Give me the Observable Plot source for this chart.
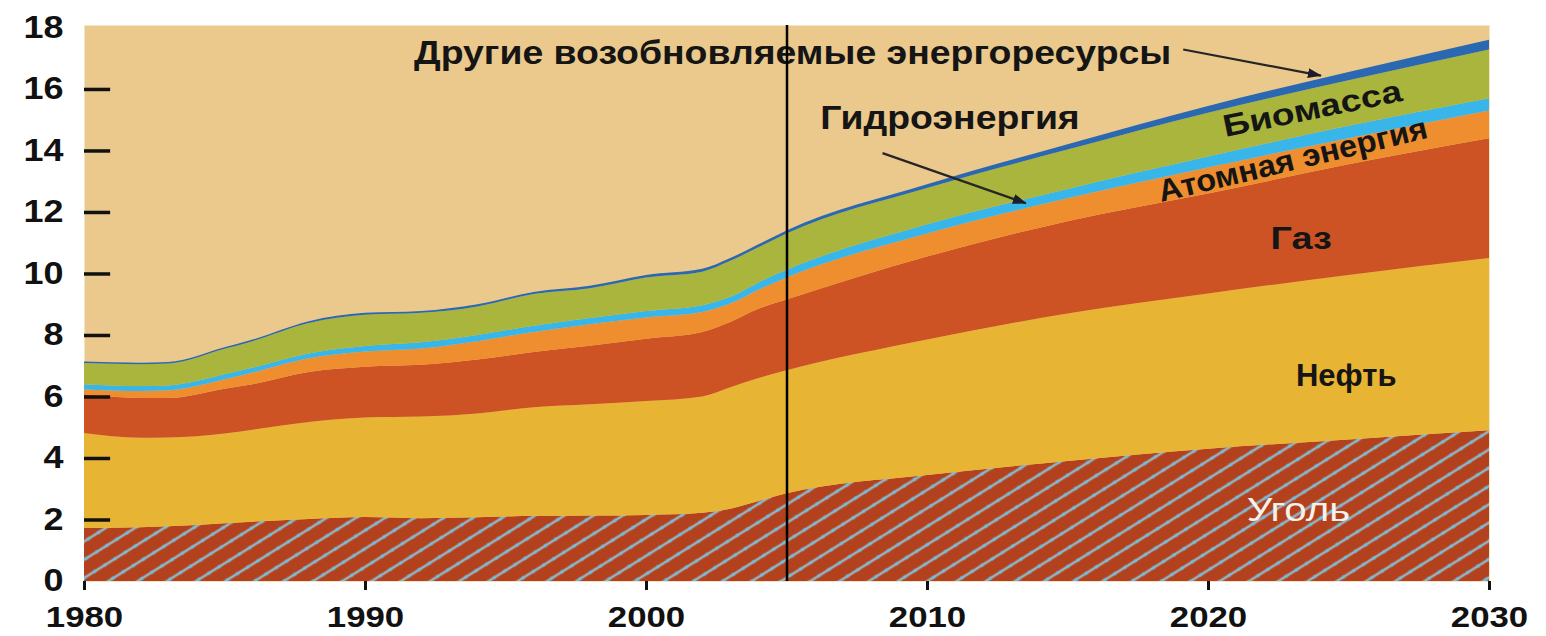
<!DOCTYPE html>
<html><head><meta charset="utf-8">
<script src="https://cdn.jsdelivr.net/npm/d3@7"></script>
<script src="https://cdn.jsdelivr.net/npm/@observablehq/plot@0.6"></script>
<style>body{margin:0;background:#fff;}#chart{width:1546px;height:636px;}</style>
</head><body><div id="chart"></div>
<script>
const years   = [1980,1982,1983,1985,1986,1988,1990,1992,1994,1996,1998,2000,2002,2003,2004,2005,2010,2015,2020,2025,2030];
const coal    = [1.72,1.75,1.78,1.88,1.93,2.02,2.08,2.04,2.07,2.12,2.13,2.15,2.22,2.35,2.60,2.85,3.45,3.90,4.30,4.60,4.90];
const oil     = [3.09,2.91,2.89,2.92,2.99,3.15,3.24,3.31,3.38,3.53,3.62,3.70,3.78,3.95,4.00,4.00,4.40,4.80,5.05,5.35,5.60];
const gas     = [1.26,1.29,1.28,1.45,1.48,1.63,1.65,1.68,1.75,1.80,1.90,2.03,2.10,2.12,2.25,2.30,2.70,3.00,3.25,3.60,3.90];
const nuclear = [0.16,0.23,0.25,0.31,0.38,0.44,0.49,0.53,0.60,0.65,0.70,0.69,0.65,0.60,0.62,0.72,0.75,0.75,0.85,0.85,0.90];
const hydro   = [0.17,0.16,0.16,0.16,0.16,0.16,0.18,0.20,0.20,0.20,0.20,0.21,0.22,0.22,0.24,0.25,0.30,0.30,0.35,0.40,0.40];
const biomass = [0.69,0.71,0.71,0.83,0.86,0.99,1.02,0.96,0.93,1.03,0.97,1.09,1.09,1.17,1.14,1.18,1.18,1.28,1.43,1.48,1.58];
const other   = [0.05,0.05,0.05,0.05,0.05,0.06,0.06,0.06,0.07,0.07,0.08,0.08,0.09,0.09,0.10,0.10,0.12,0.17,0.22,0.27,0.32];

const sources = ["Уголь","Нефть","Газ","Атомная энергия","Гидроэнергия","Биомасса","Другие возобновляемые энергоресурсы"];
const colors  = ["url(#coalHatch)","#e8b434","#cd5224","#ef8e2e","#38b6ea","#a9b53c","#2b68b2"];
const series  = [coal, oil, gas, nuclear, hydro, biomass, other];

const xTicks = [1980,1990,2000,2010,2020,2030];
const yTicks = [0,2,4,6,8,10,12,14,16,18];
const innerTicks = [2,4,6,8,10,12,14,16];
const projectionStart = 2005;

// annotation texts with their anchor in data units (year, value)
const labels = [
  {text:"Другие возобновляемые энергоресурсы", x:2005.2, y:17.17},
  {text:"Гидроэнергия", x:2010.8, y:15.06},
  {text:"Биомасса", x:2023.7, y:15.36},
  {text:"Атомная энергия", x:2023.0, y:13.7},
  {text:"Газ", x:2023.3, y:11.14},
  {text:"Нефть", x:2024.9, y:6.69},
  {text:"Уголь", x:2023.2, y:2.3}
];
const arrows = [
  {x1:2019.1, y1:17.3, x2:2024.0, y2:16.45},
  {x1:2008.4, y1:13.93, x2:2013.5, y2:12.3}
];

// styling of annotations (kept apart from data)
const labelStyle = {
  "Другие возобновляемые энергоресурсы": {size:34, weight:"bold", fill:"#151515", rotate:0, stretch:1.1},
  "Гидроэнергия": {size:34, weight:"bold", fill:"#151515", rotate:0, stretch:1.1},
  "Биомасса": {size:31, weight:"bold", fill:"#151515", rotate:-11.5, stretch:1.2},
  "Атомная энергия": {size:31, weight:"bold", fill:"#151515", rotate:-13.5, stretch:1.05},
  "Газ": {size:31, weight:"bold", fill:"#151515", rotate:0, stretch:1.22},
  "Нефть": {size:31, weight:"bold", fill:"#151515", rotate:0, stretch:1.0},
  "Уголь": {size:33, weight:"normal", fill:"#f6f1ea", rotate:0, stretch:1.22}
};
const axisStretch = 1.16;

const rows = years.flatMap((yr, i) => sources.map((s, k) => ({year: yr, source: s, value: series[k][i]})));

const font = "'Liberation Sans', Arial, Helvetica, sans-serif";

const chart = Plot.plot({
  width: 1546, height: 636,
  marginLeft: 84, marginRight: 57, marginTop: 25, marginBottom: 55,
  style: {fontFamily: font, background: "transparent", color: "#111"},
  x: {domain: [1980, 2030], label: null},
  y: {domain: [0, 18.08], label: null},
  color: {domain: sources, range: colors},
  marks: [
    Plot.frame({fill: "#ebc88b", stroke: "none"}),
    Plot.areaY(rows, Plot.stackY({x: "year", y: "value", z: "source", fill: "source", curve: "monotone-x"})),
    Plot.ruleY(innerTicks, {x1: 1980, x2: 1980.93, stroke: "#111", strokeWidth: 3.5}),
    ...labels.map(l => {
      const s = labelStyle[l.text];
      return Plot.text([l], {x: "x", y: "y", text: "text", rotate: s.rotate, fill: s.fill,
        fontWeight: s.weight, fontSize: s.size, textAnchor: "middle", lineAnchor: "middle", fontFamily: font});
    }),
    Plot.link(arrows, {x1: "x1", y1: "y1", x2: "x2", y2: "y2", stroke: "#262626", strokeWidth: 2.2}),
    Plot.ruleX([projectionStart], {stroke: "#000", strokeWidth: 2.5}),
    Plot.axisX({ticks: xTicks, tickSize: 9, tickPadding: 15, fontSize: 30, fontWeight: "bold", tickFormat: d => String(d), strokeWidth: 3, label: null}),
    Plot.axisY({ticks: yTicks, tickSize: 0, tickPadding: 21, fontSize: 31, fontWeight: "bold", label: null})
  ]
});

// defs: hatch pattern for coal + filled arrow head
const ns = "http://www.w3.org/2000/svg";
function el(name, attrs) { const e = document.createElementNS(ns, name); for (const k in attrs) e.setAttribute(k, attrs[k]); return e; }
const defs = el("defs", {});
const pat = el("pattern", {id: "coalHatch", patternUnits: "userSpaceOnUse", width: 12, height: 15.5, patternTransform: "rotate(-32)"});
pat.append(
  el("rect", {width: 12, height: 15.5, fill: "#b3411d"}),
  el("line", {x1: 0, x2: 12, y1: 7.75, y2: 7.75, stroke: "#96b3be", "stroke-width": 2.6}),
  el("line", {x1: 4, x2: 7, y1: 7.75, y2: 7.75, stroke: "#63c5ee", "stroke-width": 2.8})
);
const marker = el("marker", {id: "arrowHead", markerUnits: "userSpaceOnUse", markerWidth: 16, markerHeight: 12, refX: 13, refY: 5, orient: "auto", viewBox: "0 0 16 10"});
marker.append(el("path", {d: "M0,0 L14,5 L0,10 Z", fill: "#1d1d2a"}));
defs.append(pat, marker);
chart.insertBefore(defs, chart.firstChild);
chart.querySelectorAll('g[aria-label="link"] path').forEach(p => p.setAttribute("marker-end", "url(#arrowHead)"));

// slight horizontal stretch of text, like the original
chart.querySelectorAll("text").forEach(t => {
  const tr = t.getAttribute("transform");
  if (!tr) return;
  const s = labelStyle[t.textContent];
  const k = s ? s.stretch : axisStretch;
  t.setAttribute("transform", tr + ` scale(${k},1)`);
});

document.getElementById("chart").append(chart);
</script></body></html>
